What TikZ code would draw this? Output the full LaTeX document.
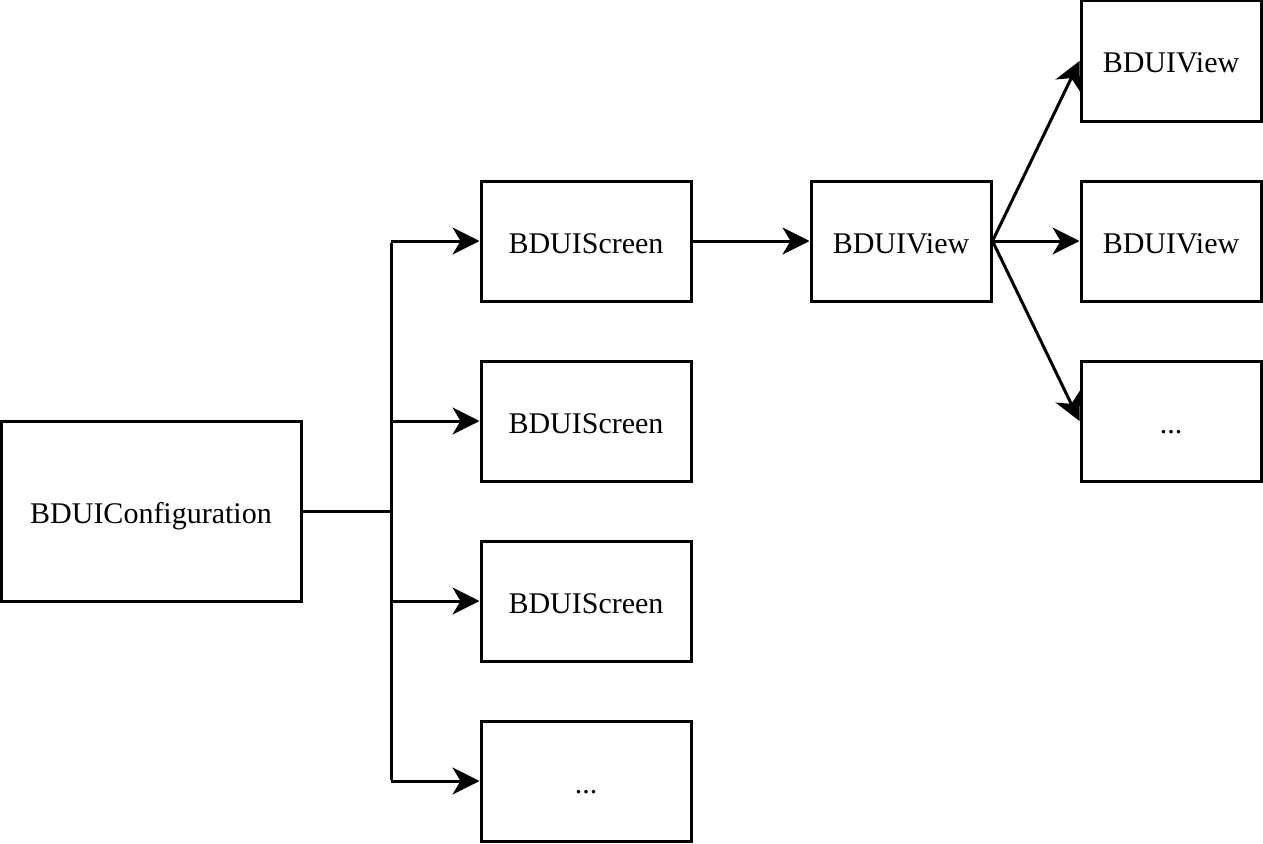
\documentclass[tikz,border=0pt]{standalone}
\usepackage{fontspec}
\setmainfont{Liberation Serif}
\usetikzlibrary{arrows.meta}
\begin{document}
\begin{tikzpicture}[x=1pt,y=-1pt,
  box/.style={draw=black,line width=3pt,rectangle,inner sep=0pt,text height=24pt,text depth=0pt,font=\fontsize{30}{34}\selectfont,text=black},
  conn/.style={line width=3pt,draw=black,line join=miter},
  arr/.style={conn,-{Stealth[length=27pt,width=27pt,inset=8pt]}}]
\useasboundingbox (0,0) rectangle (1263,843);
\node[box,minimum width=300pt,minimum height=180pt] (cfg) at (151,511) {BDUIConfiguration};
\node[box,minimum width=210pt,minimum height=120pt] (s1) at (586,241) {BDUIScreen};
\node[box,minimum width=210pt,minimum height=120pt] (s2) at (586,421) {BDUIScreen};
\node[box,minimum width=210pt,minimum height=120pt] (s3) at (586,601) {BDUIScreen};
\node[box,minimum width=210pt,minimum height=120pt] (s4) at (586,781) {...};
\node[box,minimum width=180pt,minimum height=120pt] (v) at (901,241) {BDUIView};
\node[box,minimum width=180pt,minimum height=120pt] (v1) at (1171,61) {BDUIView};
\node[box,minimum width=180pt,minimum height=120pt] (v2) at (1171,241) {BDUIView};
\node[box,minimum width=180pt,minimum height=120pt] (v3) at (1171,421) {...};
\coordinate (j) at (391,511);
\coordinate (jt) at (391,241);
\coordinate (jb) at (391,781);
\coordinate (j2) at (391,421);
\coordinate (j3) at (391,601);
\draw[conn] (cfg.east) -- (j);
\draw[conn,line cap=butt] ([yshift=-1.5pt]jt) -- ([yshift=1.5pt]jb);
\draw[arr] (jt) -- (s1.west);
\draw[arr] (j2) -- (s2.west);
\draw[arr] (j3) -- (s3.west);
\draw[arr] (jb) -- (s4.west);
\draw[arr] (s1.east) -- (v.west);
\draw[arr] (v.east) -- (v1.west);
\draw[arr] (v.east) -- (v2.west);
\draw[arr] (v.east) -- (v3.west);
\end{tikzpicture}
\end{document}
